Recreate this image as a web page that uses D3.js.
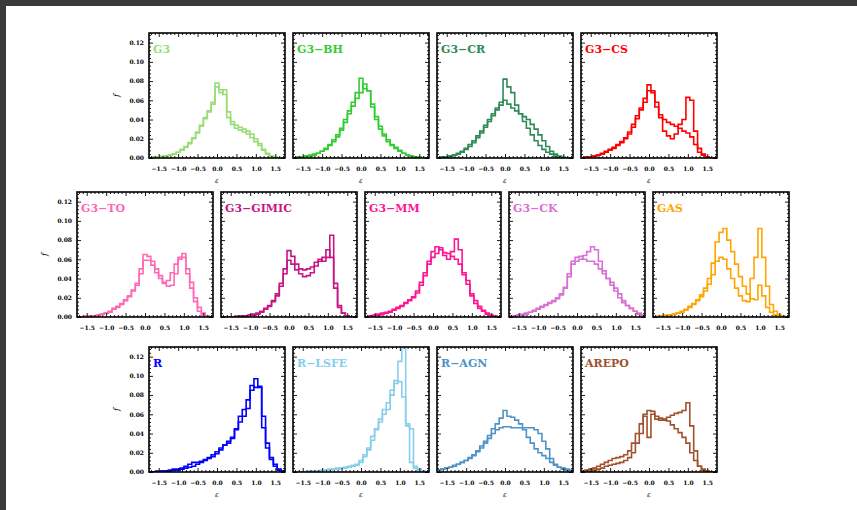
<!DOCTYPE html>
<html>
<head>
<meta charset="utf-8">
<script src="https://cdn.jsdelivr.net/npm/d3@7"></script>
<style>
  html, body { margin: 0; padding: 0; background: #3a3a3a; }
  svg { display: block; }
</style>
</head>
<body>
<svg id="fig" width="857" height="510"></svg>
<script>
// Circularity (epsilon) distributions, two histograms per simulation
const binCenters = [-1.7,-1.6,-1.5,-1.4,-1.3,-1.2,-1.1,-1.0,-0.9,-0.8,-0.7,-0.6,-0.5,-0.4,-0.3,-0.2,-0.1,
                    0.0,0.1,0.2,0.3,0.4,0.5,0.6,0.7,0.8,0.9,1.0,1.1,1.2,1.3,1.4,1.5,1.6,1.7];
const binWidth = 0.1;
const xDomain = [-1.75, 1.75];
const yDomain = [0, 0.13];
const xTicks = [-1.5, -1.0, -0.5, 0.0, 0.5, 1.0, 1.5];
const yTicks = [0.00, 0.02, 0.04, 0.06, 0.08, 0.10, 0.12];

const panelNames  = ["G3", "G3\u2212BH", "G3\u2212CR", "G3\u2212CS",
                     "G3\u2212TO", "G3\u2212GIMIC", "G3\u2212MM", "G3\u2212CK", "GAS",
                     "R", "R\u2212LSFE", "R\u2212AGN", "AREPO"];
const panelColors = ["#99dd77", "#33cc33", "#2e8b57", "#ff0000",
                     "#ff69b4", "#c71585", "#ff1493", "#da70d6", "#ffa500",
                     "#0000ff", "#87ceeb", "#4f93c6", "#a0522d"];

const g3_a = [0.000,0.001,0.001,0.001,0.002,0.003,0.004,0.006,0.009,0.012,0.016,0.021,0.027,0.034,0.042,0.049,0.058,
              0.078,0.071,0.066,0.042,0.035,0.031,0.029,0.027,0.025,0.021,0.017,0.013,0.008,0.004,0.002,0.001,0.000,0.000];
const g3_b = [0.000,0.001,0.001,0.002,0.002,0.003,0.004,0.006,0.008,0.011,0.015,0.020,0.026,0.033,0.041,0.048,0.056,
              0.074,0.068,0.071,0.048,0.038,0.034,0.032,0.030,0.028,0.025,0.020,0.015,0.009,0.005,0.002,0.001,0.000,0.000];
const bh_a = [0.000,0.001,0.001,0.002,0.003,0.004,0.005,0.007,0.010,0.014,0.019,0.024,0.031,0.040,0.049,0.058,0.068,
              0.083,0.072,0.070,0.053,0.040,0.030,0.023,0.017,0.013,0.010,0.007,0.005,0.003,0.002,0.001,0.001,0.000,0.000];
const bh_b = [0.000,0.001,0.001,0.002,0.002,0.003,0.005,0.007,0.009,0.013,0.017,0.022,0.029,0.037,0.046,0.054,0.062,
              0.068,0.077,0.070,0.056,0.043,0.033,0.025,0.019,0.014,0.011,0.008,0.005,0.003,0.002,0.001,0.001,0.000,0.000];
const cr_a = [0.000,0.001,0.001,0.002,0.003,0.005,0.007,0.010,0.014,0.018,0.023,0.028,0.034,0.040,0.046,0.052,0.058,
              0.082,0.074,0.068,0.055,0.046,0.038,0.031,0.024,0.018,0.013,0.009,0.006,0.004,0.002,0.001,0.000,0.000,0.000];
const cr_b = [0.000,0.001,0.001,0.002,0.003,0.004,0.006,0.009,0.012,0.016,0.021,0.026,0.032,0.038,0.044,0.050,0.055,
              0.060,0.056,0.052,0.049,0.046,0.043,0.040,0.035,0.030,0.024,0.018,0.012,0.007,0.004,0.002,0.001,0.000,0.000];
const cs_a = [0.000,0.001,0.001,0.002,0.003,0.005,0.007,0.009,0.011,0.014,0.017,0.021,0.027,0.035,0.044,0.052,0.062,
              0.076,0.070,0.058,0.045,0.040,0.037,0.035,0.033,0.031,0.028,0.026,0.022,0.014,0.006,0.003,0.001,0.000,0.000];
const cs_b = [0.000,0.001,0.001,0.002,0.003,0.004,0.006,0.008,0.010,0.013,0.016,0.020,0.025,0.032,0.041,0.050,0.058,
              0.070,0.068,0.053,0.042,0.028,0.023,0.020,0.025,0.035,0.040,0.063,0.060,0.028,0.010,0.004,0.001,0.000,0.000];
const to_a = [0.000,0.000,0.000,0.001,0.001,0.002,0.003,0.004,0.006,0.009,0.011,0.014,0.018,0.022,0.028,0.035,0.050,
              0.065,0.063,0.058,0.050,0.043,0.036,0.038,0.046,0.055,0.062,0.062,0.045,0.030,0.016,0.006,0.002,0.001,0.000];
const to_b = [0.000,0.000,0.001,0.001,0.001,0.002,0.003,0.004,0.005,0.008,0.010,0.013,0.017,0.021,0.027,0.033,0.045,
              0.059,0.059,0.054,0.046,0.040,0.035,0.032,0.033,0.045,0.060,0.066,0.050,0.036,0.020,0.010,0.004,0.001,0.000];
const gi_a = [0.000,0.000,0.000,0.000,0.001,0.001,0.001,0.002,0.003,0.004,0.006,0.009,0.012,0.017,0.024,0.035,0.050,
              0.069,0.063,0.055,0.050,0.049,0.050,0.052,0.057,0.060,0.058,0.062,0.085,0.035,0.012,0.004,0.001,0.000,0.000];
const gi_b = [0.000,0.000,0.000,0.000,0.000,0.001,0.001,0.002,0.002,0.003,0.005,0.008,0.011,0.016,0.022,0.032,0.045,
              0.059,0.055,0.049,0.045,0.042,0.043,0.046,0.053,0.058,0.062,0.070,0.062,0.030,0.010,0.004,0.001,0.000,0.000];
const mm_a = [0.000,0.001,0.002,0.003,0.004,0.005,0.006,0.008,0.010,0.012,0.015,0.018,0.021,0.027,0.036,0.046,0.058,
              0.068,0.073,0.070,0.064,0.060,0.068,0.081,0.070,0.046,0.038,0.024,0.017,0.011,0.007,0.004,0.002,0.001,0.000];
const mm_b = [0.000,0.001,0.001,0.002,0.003,0.004,0.005,0.007,0.009,0.011,0.014,0.017,0.020,0.025,0.033,0.043,0.055,
              0.062,0.066,0.072,0.067,0.066,0.063,0.060,0.055,0.044,0.034,0.022,0.014,0.009,0.006,0.003,0.001,0.000,0.000];
const ck_a = [0.001,0.001,0.002,0.003,0.004,0.005,0.007,0.009,0.011,0.013,0.015,0.017,0.020,0.024,0.030,0.042,0.055,
              0.058,0.060,0.064,0.068,0.073,0.070,0.058,0.048,0.040,0.033,0.027,0.020,0.015,0.012,0.009,0.006,0.004,0.002];
const ck_b = [0.001,0.001,0.002,0.002,0.003,0.005,0.006,0.008,0.010,0.012,0.014,0.016,0.019,0.023,0.031,0.045,0.058,
              0.062,0.063,0.060,0.058,0.058,0.055,0.050,0.045,0.040,0.036,0.030,0.024,0.017,0.012,0.009,0.006,0.003,0.001];
const gas_a = [0.000,0.001,0.001,0.002,0.002,0.003,0.004,0.006,0.008,0.011,0.014,0.018,0.023,0.030,0.040,0.056,0.078,
               0.088,0.092,0.080,0.068,0.055,0.042,0.032,0.024,0.019,0.018,0.033,0.022,0.010,0.005,0.002,0.001,0.000,0.000];
const gas_b = [0.000,0.000,0.001,0.001,0.002,0.003,0.004,0.005,0.007,0.010,0.013,0.017,0.021,0.027,0.034,0.044,0.058,
               0.062,0.060,0.050,0.040,0.030,0.022,0.017,0.016,0.040,0.062,0.092,0.062,0.032,0.013,0.006,0.002,0.001,0.000];
const r_a = [0.000,0.000,0.001,0.001,0.001,0.002,0.003,0.003,0.004,0.006,0.008,0.010,0.010,0.011,0.013,0.015,0.018,
             0.021,0.025,0.028,0.032,0.035,0.045,0.052,0.065,0.066,0.085,0.097,0.088,0.058,0.030,0.015,0.008,0.003,0.001];
const r_b = [0.000,0.000,0.000,0.001,0.001,0.001,0.002,0.002,0.003,0.004,0.005,0.006,0.008,0.010,0.012,0.014,0.016,
             0.019,0.023,0.028,0.030,0.036,0.044,0.058,0.058,0.075,0.090,0.088,0.089,0.046,0.025,0.013,0.006,0.002,0.001];
const lsfe_a = [0.000,0.000,0.000,0.000,0.001,0.001,0.001,0.002,0.002,0.003,0.003,0.004,0.004,0.005,0.006,0.007,0.008,
                0.012,0.018,0.025,0.033,0.045,0.052,0.060,0.072,0.080,0.092,0.115,0.145,0.050,0.010,0.004,0.002,0.001,0.000];
const lsfe_b = [0.000,0.000,0.000,0.000,0.000,0.001,0.001,0.001,0.002,0.002,0.003,0.003,0.004,0.004,0.005,0.006,0.007,
                0.010,0.016,0.023,0.037,0.044,0.055,0.065,0.065,0.085,0.095,0.094,0.078,0.048,0.045,0.006,0.003,0.001,0.000];
const agn_a = [0.002,0.003,0.004,0.005,0.007,0.008,0.010,0.012,0.015,0.018,0.022,0.027,0.032,0.038,0.045,0.050,0.056,
               0.064,0.058,0.057,0.054,0.050,0.044,0.036,0.030,0.024,0.020,0.017,0.014,0.010,0.007,0.005,0.003,0.002,0.001];
const agn_b = [0.002,0.003,0.004,0.005,0.006,0.008,0.010,0.012,0.014,0.017,0.021,0.025,0.030,0.035,0.040,0.044,0.046,
               0.047,0.047,0.046,0.046,0.046,0.046,0.046,0.046,0.044,0.040,0.032,0.024,0.014,0.008,0.005,0.004,0.003,0.002];
const arepo_a = [0.001,0.002,0.003,0.004,0.006,0.008,0.010,0.012,0.014,0.015,0.016,0.018,0.022,0.030,0.040,0.050,0.060,
                 0.064,0.063,0.058,0.056,0.055,0.053,0.049,0.045,0.041,0.036,0.030,0.020,0.012,0.006,0.003,0.001,0.000,0.000];
const arepo_b = [0.000,0.001,0.001,0.002,0.003,0.004,0.006,0.007,0.008,0.009,0.010,0.012,0.015,0.020,0.030,0.040,0.058,
                 0.036,0.060,0.055,0.054,0.054,0.057,0.059,0.061,0.062,0.064,0.072,0.048,0.022,0.006,0.002,0.001,0.000,0.000];

const panelSeries = [[g3_a, g3_b], [bh_a, bh_b], [cr_a, cr_b], [cs_a, cs_b],
                     [to_a, to_b], [gi_a, gi_b], [mm_a, mm_b], [ck_a, ck_b], [gas_a, gas_b],
                     [r_a, r_b], [lsfe_a, lsfe_b], [agn_a, agn_b], [arepo_a, arepo_b]];

// ---- layout ----
const W = 857, H = 510;
const pw = 136, ph = 125;
const rows = [
  { top: 33,  left: 149, panels: [0, 1, 2, 3],    xTitle: true  },
  { top: 192, left: 77,  panels: [4, 5, 6, 7, 8], xTitle: false },
  { top: 347, left: 149, panels: [9, 10, 11, 12], xTitle: true  }
];
const colStep = 144;

const svg = d3.select("#fig");
svg.append("rect").attr("x", 6).attr("y", 6).attr("width", W - 6).attr("height", H - 6).attr("fill", "#ffffff");

const x = d3.scaleLinear().domain(xDomain).range([0, pw]);
const y = d3.scaleLinear().domain(yDomain).range([ph, 0]);

const xMinor = d3.range(-17, 18).map(i => i / 10).filter(v => Math.abs(v * 2 - Math.round(v * 2)) > 1e-6);
const yMinor = d3.range(1, 33).map(i => i * 0.004).filter(v => Math.abs(v / 0.02 - Math.round(v / 0.02)) > 1e-6);

const tickFont = "'DejaVu Serif', serif";

const line = d3.line().x(d => x(d[0])).y(d => y(d[1]));

function stepPoints(vals) {
  const pts = [[xDomain[0], 0]];
  vals.forEach((v, i) => {
    pts.push([binCenters[i] - binWidth / 2, v], [binCenters[i] + binWidth / 2, v]);
  });
  pts.push([xDomain[1], 0]);
  return pts;
}

function styleAxis(sel) {
  sel.select(".domain").remove();
  sel.selectAll(".tick line").attr("stroke", "#000").attr("stroke-width", 0.9);
  sel.selectAll("text").attr("font-family", tickFont).attr("font-weight", "bold")
     .attr("font-size", 6).attr("fill", "#000");
}

rows.forEach(row => {
  row.panels.forEach((pi, col) => {
    const left = row.left + col * colStep;
    const g = svg.append("g").attr("transform", `translate(${left},${row.top})`);
    const clipId = "clip" + pi;
    g.append("clipPath").attr("id", clipId)
      .append("rect").attr("x", 0).attr("y", 0).attr("width", pw).attr("height", ph);

    // histograms
    const hg = g.append("g").attr("clip-path", `url(#${clipId})`);
    panelSeries[pi].forEach(vals => {
      hg.append("path").attr("d", line(stepPoints(vals)))
        .attr("fill", "none").attr("stroke", panelColors[pi])
        .attr("stroke-width", 1.6).attr("stroke-linejoin", "miter");
    });

    // ticks on all four sides, pointing inward
    g.append("g").attr("transform", `translate(0,${ph})`)
      .call(d3.axisBottom(x).tickValues(xTicks).tickSize(-4).tickPadding(9).tickFormat(d3.format(".1f")))
      .call(styleAxis);
    g.append("g").attr("transform", `translate(0,${ph})`)
      .call(d3.axisBottom(x).tickValues(xMinor).tickSize(-2).tickFormat(""))
      .call(styleAxis);
    g.append("g")
      .call(d3.axisTop(x).tickValues(xTicks).tickSize(-4).tickFormat(""))
      .call(styleAxis);
    g.append("g")
      .call(d3.axisTop(x).tickValues(xMinor).tickSize(-2).tickFormat(""))
      .call(styleAxis);
    g.append("g")
      .call(d3.axisLeft(y).tickValues(yTicks).tickSize(-4).tickPadding(5)
        .tickFormat(col === 0 ? d3.format(".2f") : ""))
      .call(styleAxis);
    g.append("g")
      .call(d3.axisLeft(y).tickValues(yMinor).tickSize(-2).tickFormat(""))
      .call(styleAxis);
    g.append("g").attr("transform", `translate(${pw},0)`)
      .call(d3.axisRight(y).tickValues(yTicks).tickSize(-4).tickFormat(""))
      .call(styleAxis);
    g.append("g").attr("transform", `translate(${pw},0)`)
      .call(d3.axisRight(y).tickValues(yMinor).tickSize(-2).tickFormat(""))
      .call(styleAxis);

    // frame
    g.append("rect").attr("x", 0).attr("y", 0).attr("width", pw).attr("height", ph)
      .attr("fill", "none").attr("stroke", "#000").attr("stroke-width", 1.6);

    // panel name
    g.append("text").attr("x", 4).attr("y", 20)
      .attr("font-family", tickFont).attr("font-weight", "bold").attr("font-size", 11)
      .attr("fill", panelColors[pi]).text(panelNames[pi]);

    // axis titles
    if (row.xTitle) {
      g.append("text").attr("x", x(0)).attr("y", ph + 25).attr("text-anchor", "middle")
        .attr("font-family", tickFont).attr("font-style", "italic").attr("font-size", 7)
        .attr("fill", "#000").text("\u03b5");
    }
    if (col === 0) {
      g.append("text").attr("transform", `translate(-30,${ph / 2}) rotate(-90)`)
        .attr("text-anchor", "middle")
        .attr("font-family", tickFont).attr("font-style", "italic").attr("font-size", 8)
        .attr("fill", "#000").text("f");
    }
  });
});
</script>
</body>
</html>
